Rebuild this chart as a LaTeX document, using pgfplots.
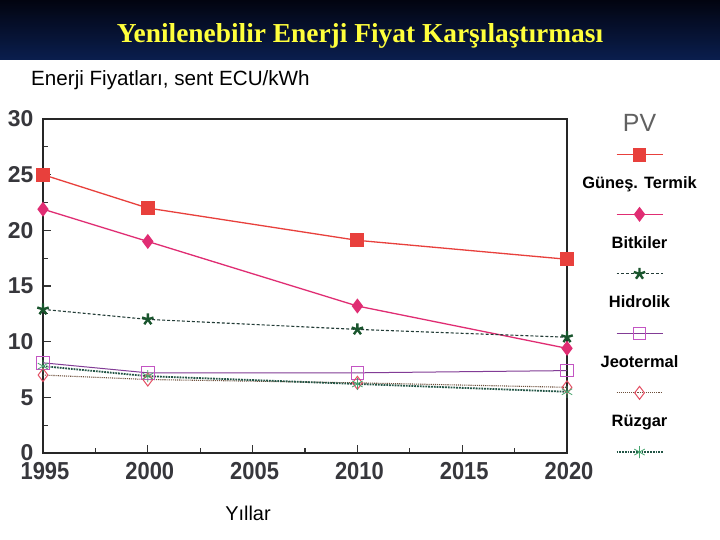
\documentclass[border=0pt]{standalone}
\usepackage{fontspec}
\setmainfont{Liberation Sans}
\newfontfamily\titlefont{Liberation Serif}
\usepackage{graphicx}
\usepackage{pgfplots}
\pgfplotsset{compat=1.18}
\definecolor{bartop}{RGB}{2,4,16}
\definecolor{barbot}{RGB}{10,30,78}
\definecolor{titleyellow}{RGB}{255,255,60}
\definecolor{pvred}{RGB}{232,64,60}
\definecolor{gunes}{RGB}{224,45,115}
\definecolor{bitki}{RGB}{25,85,45}
\definecolor{bitkiline}{RGB}{35,60,55}
\definecolor{hidro}{RGB}{195,85,195}
\definecolor{hidroline}{RGB}{130,60,150}
\definecolor{jeo}{RGB}{228,80,100}
\definecolor{jeoline}{RGB}{110,80,60}
\definecolor{ruz}{RGB}{70,165,110}
\definecolor{ruzline}{RGB}{35,85,70}
\definecolor{ticktext}{RGB}{55,55,60}
\newcommand{\lgdraw}[2]{%
  \draw[mark repeat=2,mark phase=2] plot coordinates {(-23bp,0bp)(0bp,0bp)(23bp,0bp)};
  \node[draw=none,fill=none,#2] at (0bp,31bp) {#1};
  \path[draw=none,fill=none] (-62bp,-21.8bp) rectangle (62bp,31bp);}
\newcommand{\xl}[1]{\scalebox{1}[1.12]{#1}}
\tikzset{lgf/.style={text=black,font=\bfseries\fontsize{16.5}{18}\selectfont}}
\begin{document}
\begin{tikzpicture}[x=1bp,y=1bp]
\fill[white] (0,0) rectangle (720,540);
\shade[top color=bartop, bottom color=barbot] (0,480) rectangle (720,540);
\node[text=titleyellow, font=\titlefont\bfseries\fontsize{27.5}{30}\selectfont] at (360,504) {Yenilenebilir Enerji Fiyat Karşılaştırması};
\node[anchor=west, font=\fontsize{20.7}{23}\selectfont, inner sep=0pt] at (31,460) {Enerji Fiyatları, sent ECU/kWh};
\node[font=\fontsize{20}{22}\selectfont] at (248,27) {Yıllar};
\begin{axis}[
  at={(43bp,87bp)}, anchor=south west,
  scale only axis, width=524bp, height=334bp,
  xmin=1995, xmax=2020, ymin=0, ymax=30,
  clip=false,
  axis line style={line width=1.4bp, color=black!85},
  xtick={1995,2000,2005,2010,2015,2020},
  xticklabels={\xl{1995},\xl{2000},\xl{2005},\xl{2010},\xl{2015},\xl{2020}},
  ytick={0,5,10,15,20,25,30},
  yticklabels={0,5,10,15,20,25,30},
  minor x tick num=1, minor y tick num=1,
  xtick pos=bottom, ytick pos=left,
  major tick length=8bp, minor tick length=5bp,
  tick style={line width=1.2bp, color=black!80},
  xticklabel style={font=\bfseries\fontsize{22}{24}\selectfont, text=ticktext, yshift=-6bp, xshift=2bp},
  yticklabel style={font=\bfseries\fontsize{23}{25}\selectfont, text=ticktext, xshift=-6bp},
  legend style={draw=none, fill=none, inner sep=0pt, row sep=0pt, column sep=0pt,
    nodes={inner sep=0pt}, at={(1.1393,1.014)}, anchor=north},
]
\addplot[color=pvred, line width=1.3bp, mark=square*, mark size=6.3bp,
  legend image code/.code={\lgdraw{PV}{text=black!62,font=\fontsize{25}{28}\selectfont}}]
  coordinates {(1995,25.0)(2000,22.0)(2010,19.1)(2020,17.4)};
\addlegendentry{\mbox{}}
\addplot[color=gunes, line width=1.3bp, mark=diamond*, mark size=6.5bp,
  legend image code/.code={\lgdraw{Güneş. Termik}{lgf}}]
  coordinates {(1995,21.9)(2000,19.0)(2010,13.2)(2020,9.4)};
\addlegendentry{\mbox{}}
\addplot[color=bitkiline, line width=1.1bp, densely dashed, mark=star, mark size=6bp,
  mark options={solid, color=bitki, line width=2.4bp},
  legend image code/.code={\lgdraw{Bitkiler}{lgf}}]
  coordinates {(1995,12.9)(2000,12.0)(2010,11.1)(2020,10.4)};
\addlegendentry{\mbox{}}
\addplot[color=hidroline, line width=1bp, mark=square, mark size=6.3bp,
  mark options={solid, color=hidro, line width=1bp},
  legend image code/.code={\lgdraw{Hidrolik}{lgf}}]
  coordinates {(1995,8.1)(2000,7.2)(2010,7.2)(2020,7.4)};
\addlegendentry{\mbox{}}
\addplot[color=jeoline, line width=1.1bp, densely dotted, mark=diamond, mark size=6.5bp,
  mark options={solid, color=jeo, line width=1bp},
  legend image code/.code={\lgdraw{Jeotermal}{lgf}}]
  coordinates {(1995,7.0)(2000,6.6)(2010,6.3)(2020,5.9)};
\addlegendentry{\mbox{}}
\addplot[color=ruzline, line width=1.8bp, densely dotted, mark=asterisk, mark size=6bp,
  mark options={solid, color=ruz, line width=0.8bp},
  legend image code/.code={\lgdraw{Rüzgar}{lgf}}]
  coordinates {(1995,7.8)(2000,6.9)(2010,6.2)(2020,5.5)};
\addlegendentry{\mbox{}}
\end{axis}
\end{tikzpicture}
\end{document}
